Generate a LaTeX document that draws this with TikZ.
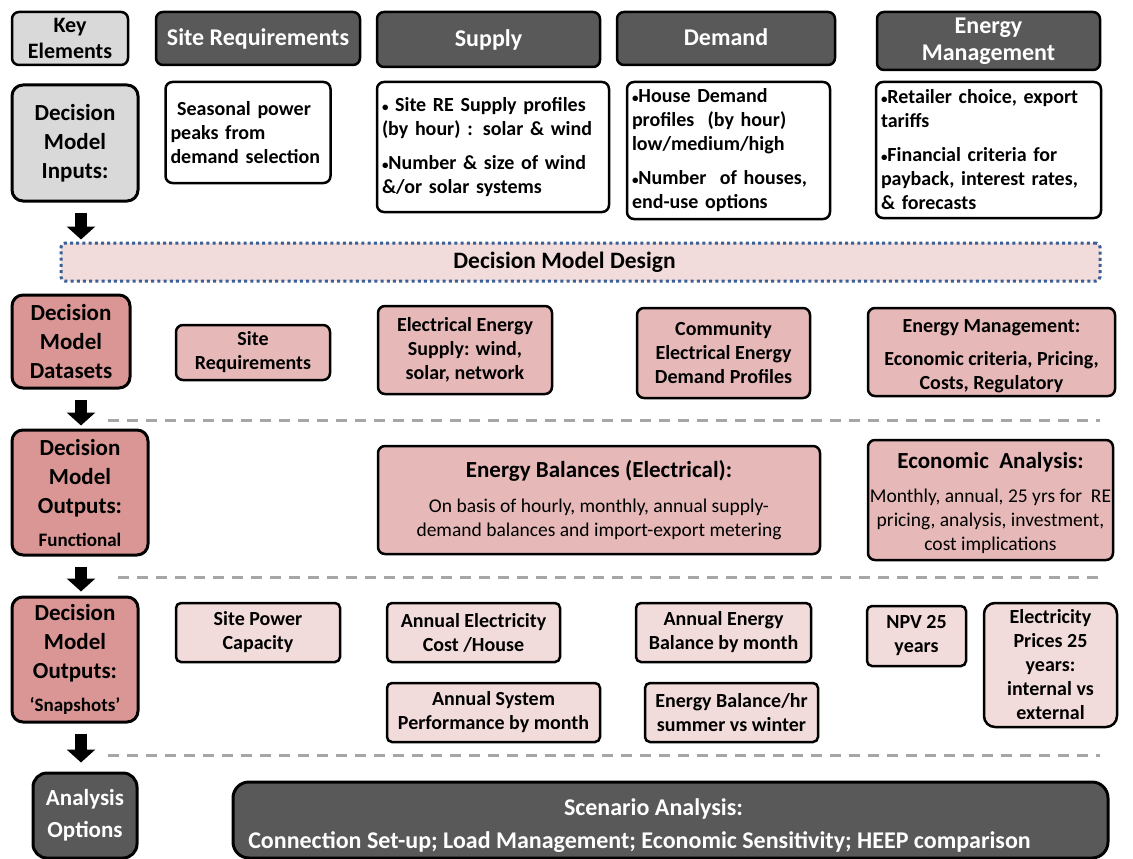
\documentclass[tikz,border=0pt]{standalone}
\usepackage{fontspec}
\setmainfont{Carlito}
\usetikzlibrary{arrows.meta}
\definecolor{darkfill}{HTML}{595959}
\definecolor{lightfill}{HTML}{D9D9D9}
\definecolor{rosefill}{HTML}{D99694}
\definecolor{pinkfill}{HTML}{E6B9B8}
\definecolor{palefill}{HTML}{F2DCDB}
\definecolor{dotblue}{HTML}{3A5F95}
\definecolor{sepgrey}{HTML}{A6A6A6}
% small list bullet and the regular-weight body text of the output boxes
\newcommand\dotmark{{\fontsize{13}{13}\selectfont •}}
\newcommand\plainbody{\mdseries\fontsize{19.5}{24.5}\selectfont}
\newcommand\titlebody{\fontsize{23}{26}\selectfont}
\begin{document}
\begin{tikzpicture}[x=1pt,y=-1pt,
  spanbox/.style n args={4}{at={({(#1+#3)/2},{(#2+#4)/2})},
    minimum width={(#3-#1)*1pt}, minimum height={(#4-#2)*1pt}},
  basebox/.style={draw=black, line width=2.5pt, rounded corners=7pt, inner sep=0pt,
    align=center, font=\fontsize{20}{24}\selectfont\bfseries},
  header/.style={basebox, fill=darkfill, text=white, font=\fontsize{24}{27}\selectfont\bfseries},
  keyhead/.style={basebox, fill=lightfill, font=\fontsize{22}{26}\selectfont\bfseries},
  rowlabel/.style={basebox, line width=3pt, rounded corners=11pt,
    font=\fontsize{23}{29}\selectfont\bfseries},
  inputbox/.style={basebox, fill=white, align=left, inner xsep=5pt},
  databox/.style={basebox, fill=pinkfill},
  snapbox/.style={basebox, fill=palefill, rounded corners=5pt},
  darkbox/.style={basebox, fill=darkfill, text=white, line width=3pt, rounded corners=14pt},
  blockarrow/.style={draw=black, line width=12pt, -{Triangle[width=28pt,length=13pt]}},
  sepline/.style={draw=sepgrey, line width=3pt, dash pattern=on 11pt off 8pt}
]
\useasboundingbox (0,0) rectangle (1133,859);
\clip (0,0) rectangle (1133,859);

% column headers
\node[keyhead, spanbox={12}{12}{128}{65}] (key) {Key\\Elements};
\node[header, spanbox={156}{12}{360}{65}] (hsite) {\raisebox{-1pt}{Site Requirements}};
\node[header, spanbox={377}{12}{600}{67}] (hsupply) {\raisebox{-2pt}{Supply}};
\node[header, spanbox={617}{12}{835}{65}] (hdemand) {\raisebox{3pt}{Demand}};
\node[header, spanbox={877}{12}{1100}{70}] (henergy) {Energy\\Management};

% model inputs
\node[rowlabel, fill=lightfill, spanbox={12}{85}{138}{201}] (inputs) {Decision\\Model\\Inputs:};
\node[inputbox, spanbox={166}{82}{330}{183}, text width=155pt] (inseason)
  {\ Seasonal power\\peaks from\\demand selection};
\node[inputbox, spanbox={377}{82}{609}{212}, text width=222pt] (insupply)
  {\dotmark\ Site RE Supply profiles\\(by hour) : solar \& wind\\[10pt]\dotmark Number \& size of wind\\\&/or solar systems\\[4pt]};
\node[inputbox, spanbox={627}{82}{830}{219}, text width=193pt] (indemand)
  {\dotmark House Demand\\profiles\ \ (by hour)\\low/medium/high\\[10pt]\dotmark Number\ \ of houses,\\end-use options};
\node[inputbox, spanbox={877}{82}{1100}{218}, text width=215pt] (inenergy)
  {\dotmark Retailer choice, export\\tariffs\\[10pt]\dotmark Financial criteria for\\payback, interest rates,\\\& forecasts};

% model design band
\node[draw=dotblue, line width=3pt, dash pattern=on 3pt off 3.2pt, fill=palefill,
  rounded corners=4pt, spanbox={61}{243}{1100}{281},
  font=\fontsize{23.5}{26}\selectfont\bfseries] (design)
  {Decision Model Design\hspace*{32pt}};

% datasets
\node[rowlabel, fill=rosefill, spanbox={12}{295}{130}{388}] (datasets) {Decision\\Model\\Datasets};
\node[databox, spanbox={176}{325}{330}{380}] (dsite) {Site\\Requirements};
\node[databox, spanbox={378}{306}{552}{394}] (dsupply) {Electrical Energy\\Supply: wind,\\solar, network};
\node[databox, spanbox={637}{308}{810}{398}] (ddemand) {Community\\Electrical Energy\\Demand Profiles};
\node[databox, spanbox={868}{308}{1115}{396}] (denergy) {\rule{0pt}{22pt}Energy Management:\\[9pt]Economic criteria, Pricing,\\Costs, Regulatory};

% functional outputs
\node[rowlabel, fill=rosefill, spanbox={12}{430}{148}{555}] (functional)
  {Decision\\Model\\Outputs:\\[4pt]\fontsize{19}{22}\selectfont Functional};
\node[databox, spanbox={378}{446}{820}{554}] (fbalance)
  {\titlebody Energy Balances (Electrical):\\[11pt]
   \plainbody On basis of hourly, monthly, annual supply-\\
   \plainbody demand balances and import-export metering};
\node[databox, spanbox={868}{440}{1113}{560}] (fecon)
  {\titlebody\rule{0pt}{22pt}Economic\ \ Analysis:\\[10pt]
   \plainbody Monthly, annual, 25 yrs for\ \ RE\\
   \plainbody pricing, analysis, investment,\\
   \plainbody cost implications};

% snapshot outputs
\node[rowlabel, fill=rosefill, spanbox={12}{597}{138}{722}] (snapshots)
  {Decision\\Model\\Outputs:\\[4pt]\fontsize{19}{22}\selectfont ‘Snapshots’};
\node[snapbox, spanbox={176}{603}{340}{662}] (spower) {Site Power\\Capacity};
\node[snapbox, spanbox={387}{603}{560}{662}] (scost) {Annual Electricity\\Cost /House};
\node[snapbox, spanbox={636}{603}{811}{662}] (sbalance) {Annual Energy\\Balance by month};
\node[snapbox, spanbox={867}{606}{966}{666}] (snpv) {NPV 25\\years};
\node[snapbox, rounded corners=11pt, spanbox={984}{603}{1117}{727}] (sprices)
  {Electricity\\Prices 25\\years:\\internal vs\\external};
\node[snapbox, spanbox={387}{683}{600}{742}] (sperf) {Annual System\\Performance by month};
\node[snapbox, spanbox={645}{683}{818}{742}] (shour) {Energy Balance/hr\\summer vs winter};

% analysis options
\node[darkbox, spanbox={33}{773}{137}{858}, font=\fontsize{23}{32}\selectfont\bfseries] (options)
  {Analysis\\Options};
\node[darkbox, spanbox={233}{782}{1108}{858}, rounded corners=16pt,
  font=\fontsize{24}{33}\selectfont\bfseries] (scenario)
  {\rule{0pt}{29pt}Scenario Analysis:\hspace*{34pt}\\Connection Set-up; Load Management; Economic Sensitivity; HEEP comparison\hspace*{62pt}};

% flow arrows down the left column
\coordinate (ax) at (81,0);
\draw[blockarrow] (inputs.south -| ax) ++(0,10) -- ([yshift=2pt]design.north -| ax);
\draw[blockarrow] (datasets.south -| ax) ++(0,10) -- ([yshift=3pt]functional.north -| ax);
\draw[blockarrow] (functional.south -| ax) ++(0,10) -- ([yshift=4pt]snapshots.north -| ax);
\draw[blockarrow] (snapshots.south -| ax) ++(0,10) -- ([yshift=9pt]options.north -| ax);

% row separators
\draw[sepline] (108,420) -- (1100,420);
\draw[sepline] (118,577) -- (1100,577);
\draw[sepline] (108,755) -- (1100,755);
\end{tikzpicture}
\end{document}
